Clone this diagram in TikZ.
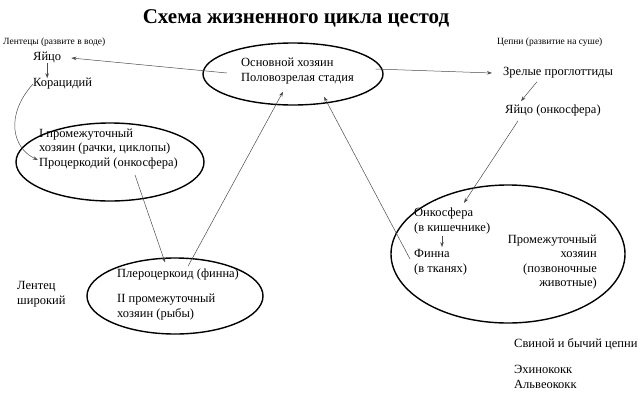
\documentclass[tikz,border=0pt]{standalone}
\usepackage{fontspec}
\setmainfont{Liberation Serif}
\usetikzlibrary{shapes, positioning, calc, arrows.meta}
\tikzset{
  host/.style={ellipse, draw, line width=1.4pt, inner sep=0pt},
  txt/.style={inner sep=0pt, align=left, font=\fontsize{12.5}{14.5}\selectfont},
  small/.style={inner sep=0pt, font=\fontsize{9.5}{10}\selectfont},
  arr/.style={-{Stealth[length=5pt,width=3.5pt]}, draw=black!70, line width=0.5pt},
}

\begin{document}
\begin{tikzpicture}[x=1pt,y=-1pt]
        \useasboundingbox (0,0) rectangle (642,402);
        \node[font=\fontsize{21}{24}\selectfont\bfseries] (T) at (296,18) {Схема жизненного цикла цестод};
        \node[small, anchor=west] (Lw) at (3,42) {Лентецы (развите в воде)};
        \node[small, anchor=west] (Ll) at (497,42) {Цепни (развитие на суше)};

        % main host
        \node[host, minimum width=180, minimum height=62] (H) at (293,74) {};
        \node[txt, anchor=west] (Ht) at (241,71) {Основной хозяин\\Половозрелая стадия};

        % water branch
        \node[txt, anchor=west] (Y1) at (33,57) {Яйцо};
        \node[txt, anchor=west] (K) at (33,84) {Корацидий};
        \node[host, minimum width=188, minimum height=78] (E1) at (110,162) {};
        \node[txt, anchor=west] (E1t) at (39,149) {I промежуточный\\хозяин (рачки, циклопы)\\Процеркодий (онкосфера)};
        \coordinate (Pk) at (38,160);
        \node[host, minimum width=176, minimum height=76] (E2) at (175,296) {};
        \node[txt, anchor=west] (Pl) at (117,274) {Плероцеркоид (финна)};
        \node[txt, anchor=west] (E2t) at (117,307) {II промежуточный\\хозяин (рыбы)};
        \node[txt, anchor=west] (Lt) at (17,294) {Лентец\\широкий};

        % land branch
        \node[txt, anchor=west] (Zp) at (503,73) {Зрелые проглоттиды};
        \node[txt, anchor=west] (Y2) at (505,110) {Яйцо (онкосфера)};
        \node[host, minimum width=234, minimum height=138] (E3) at (508,254) {};
        \node[txt, anchor=west] (On) at (414,221) {Онкосфера\\(в кишечнике)};
        \node[txt, anchor=west] (Fi) at (414,262) {Финна\\(в тканях)};
        \node[txt, anchor=east, align=right] (Ph) at (597,262) {Промежуточный\\хозяин\\(позвоночные\\животные)};
        \node[txt, anchor=west] (Sv) at (514,344) {Свиной и бычий цепни};
        \node[txt, anchor=west] (Eh) at (514,377) {Эхинококк\\Альвеококк};

        \draw[arr] ($(Ht.west)+(-14,2)$) -- ($(Y1.east)+(10,1)$);
        \draw[arr] (Y1.south) -- (Y1.south |- K.north);
        \draw[arr] (K.west) .. controls (5,115) and (12,148) .. (Pk);
        \draw[arr] ($(E1.center)+(25,13)$) -- ($(E2.north)+(-10,5)$);
        \draw[arr] ($(E2.north)+(13,9)$) -- ($(H.south)+(-10,-14)$);
        \draw[arr] ($(Fi.west)+(-4,-3)$) -- ($(H.south)+(31,-9)$);
        \draw[arr] ($(H.east)+(-8,-5)$) -- ($(Zp.west)+(-11,0)$);
        \draw[arr] ($(Zp.south west)+(34,3)$) -- ($(Y2.north west)+(16,-3)$);
        \draw[arr] ($(Y2.south west)+(13,5)$) -- ($(On.north west)+(50,-5)$);
        \draw[arr] ($(On.south west)+(28,2)$) -- ($(Fi.north west)+(28,-2)$);
\end{tikzpicture}
\end{document}
